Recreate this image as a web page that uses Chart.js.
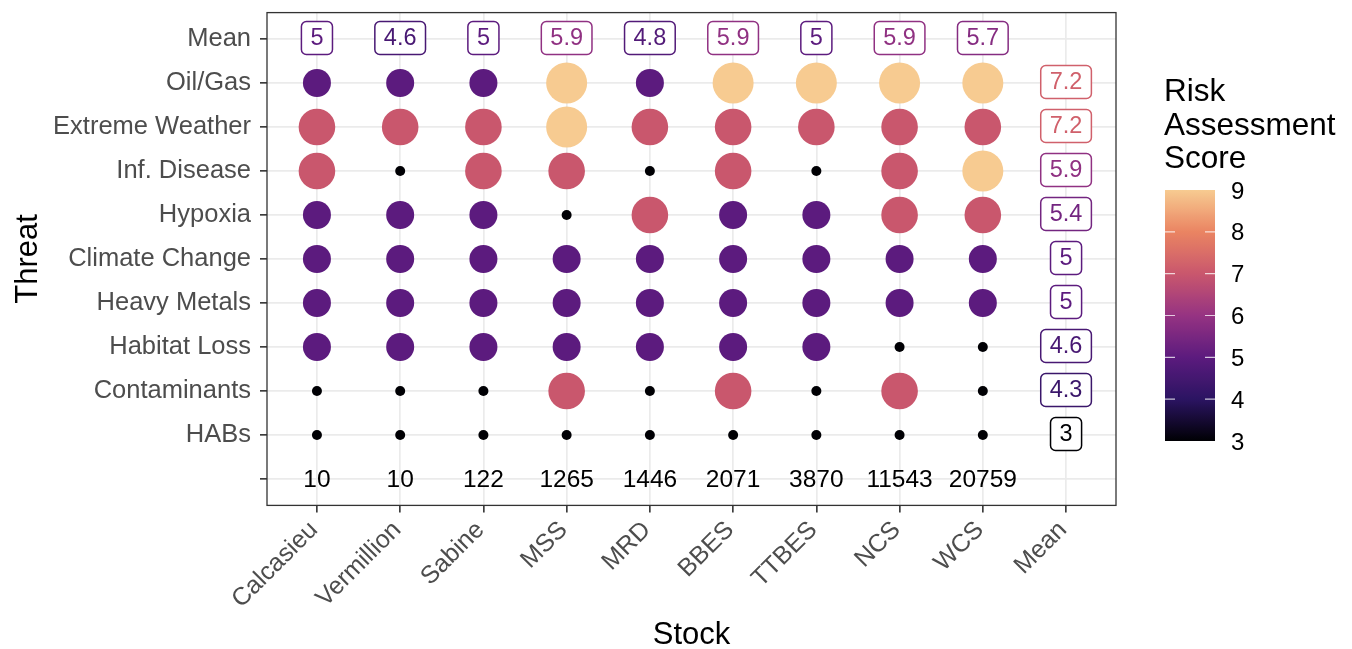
<!DOCTYPE html>
<html>
<head>
<meta charset="utf-8">
<script src="https://cdn.jsdelivr.net/npm/chart.js@4.4.1/dist/chart.umd.min.js"></script>
<style>
  html, body { margin: 0; padding: 0; background: #ffffff; }
  #wrap { width: 1352px; height: 649px; }
</style>
</head>
<body>
<div id="wrap"><canvas id="c" width="1352" height="649"></canvas></div>
<script>
// ---------------- data ----------------
const stocks = ['Calcasieu', 'Vermillion', 'Sabine', 'MSS', 'MRD', 'BBES', 'TTBES', 'NCS', 'WCS'];
const columnLabels = [...stocks, 'Mean'];
const threats = ['Oil/Gas', 'Extreme Weather', 'Inf. Disease', 'Hypoxia', 'Climate Change',
                 'Heavy Metals', 'Habitat Loss', 'Contaminants', 'HABs'];
const rowLabels = ['Mean', ...threats, ''];

const oilGas         = [5, 5, 5, 9, 5, 9, 9, 9, 9];
const extremeWeather = [7, 7, 7, 9, 7, 7, 7, 7, 7];
const infDisease     = [7, 3, 7, 7, 3, 7, 3, 7, 9];
const hypoxia        = [5, 5, 5, 3, 7, 5, 5, 7, 7];
const climateChange  = [5, 5, 5, 5, 5, 5, 5, 5, 5];
const heavyMetals    = [5, 5, 5, 5, 5, 5, 5, 5, 5];
const habitatLoss    = [5, 5, 5, 5, 5, 5, 5, 3, 3];
const contaminants   = [3, 3, 3, 7, 3, 7, 3, 7, 3];
const habs           = [3, 3, 3, 3, 3, 3, 3, 3, 3];

const stockMeans  = [5, 4.6, 5, 5.9, 4.8, 5.9, 5, 5.9, 5.7];
const threatMeans = [7.2, 7.2, 5.9, 5.4, 5, 5, 4.6, 4.3, 3];
const stockCounts = [10, 10, 122, 1265, 1446, 2071, 3870, 11543, 20759];
const legendTicks = [3, 4, 5, 6, 7, 8, 9];
const legendTitle = ['Risk', 'Assessment', 'Score'];

const threatScores = [oilGas, extremeWeather, infDisease, hypoxia, climateChange,
                      heavyMetals, habitatLoss, contaminants, habs];

// ---------------- styles ----------------
const FONT = '"Liberation Sans", Arial, Helvetica, sans-serif';
const COLOR_STOPS = [[3, '#000004'], [4, '#2b1462'], [5, '#5c1b7e'], [6, '#963382'],
                     [7, '#c9576d'], [8, '#ea8462'], [9, '#f7cb91']];
const SIZE_STOPS = [[3, 5], [5, 14], [7, 18.3], [9, 20.5]];

function hexToRgb(h) { return [1, 3, 5].map(i => parseInt(h.slice(i, i + 2), 16)); }
function colorFor(v) {
  if (v <= COLOR_STOPS[0][0]) return COLOR_STOPS[0][1];
  for (let i = 1; i < COLOR_STOPS.length; i++) {
    const [v1, c1] = COLOR_STOPS[i];
    const [v0, c0] = COLOR_STOPS[i - 1];
    if (v <= v1) {
      const t = (v - v0) / (v1 - v0);
      const a = hexToRgb(c0), b = hexToRgb(c1);
      const m = a.map((x, k) => Math.round(x + (b[k] - x) * t));
      return `rgb(${m[0]},${m[1]},${m[2]})`;
    }
  }
  return COLOR_STOPS[COLOR_STOPS.length - 1][1];
}
function radiusFor(v) {
  for (let i = 1; i < SIZE_STOPS.length; i++) {
    const [v1, r1] = SIZE_STOPS[i];
    const [v0, r0] = SIZE_STOPS[i - 1];
    if (v <= v1) return r0 + (r1 - r0) * (v - v0) / (v1 - v0);
  }
  return SIZE_STOPS[SIZE_STOPS.length - 1][1];
}

const points = [];
threatScores.forEach((row, i) => {
  row.forEach((v, j) => points.push({ x: j, y: i + 1, v: v, r: radiusFor(v) }));
});

// ---------------- overlay plugin ----------------
function drawBoxLabel(ctx, cx, cy, value) {
  const txt = String(value);
  const col = colorFor(value);
  ctx.font = `23.5px ${FONT}`;
  const w = ctx.measureText(txt).width + 18;
  const h = 33;
  ctx.beginPath();
  ctx.roundRect(cx - w / 2, cy - h / 2, w, h, 5);
  ctx.fillStyle = '#ffffff';
  ctx.fill();
  ctx.lineWidth = 1.5;
  ctx.strokeStyle = col;
  ctx.stroke();
  ctx.fillStyle = col;
  ctx.textAlign = 'center';
  ctx.textBaseline = 'middle';
  ctx.fillText(txt, cx, cy + 1);
}

const overlay = {
  id: 'overlay',
  afterDatasetsDraw(chart) {
    const { ctx, scales: { x, y } } = chart;
    ctx.save();
    stockMeans.forEach((m, j) => drawBoxLabel(ctx, x.getPixelForValue(j), y.getPixelForValue(0) - 1, m));
    threatMeans.forEach((m, i) => drawBoxLabel(ctx, x.getPixelForValue(stocks.length), y.getPixelForValue(i + 1) - 1, m));
    ctx.font = `24.5px ${FONT}`;
    ctx.fillStyle = '#000000';
    ctx.textAlign = 'center';
    ctx.textBaseline = 'middle';
    stockCounts.forEach((n, j) => ctx.fillText(String(n), x.getPixelForValue(j), y.getPixelForValue(rowLabels.length - 1) + 1));
    ctx.restore();
  },
  afterDraw(chart) {
    const { ctx, chartArea: a } = chart;
    ctx.save();
    // panel border
    ctx.strokeStyle = '#333333';
    ctx.lineWidth = 1.3;
    ctx.strokeRect(a.left, a.top, a.right - a.left, a.bottom - a.top);

    // legend
    const bx = 1165, bw = 50, btop = 190, bbot = 441;
    const lo = legendTicks[0], hi = legendTicks[legendTicks.length - 1];
    const yOf = v => bbot - (v - lo) / (hi - lo) * (bbot - btop);
    ctx.fillStyle = '#000000';
    ctx.font = `31.5px ${FONT}`;
    ctx.textAlign = 'left';
    ctx.textBaseline = 'alphabetic';
    legendTitle.forEach((t, k) => ctx.fillText(t, 1164, 101 + k * 33.5));

    const g = ctx.createLinearGradient(0, bbot, 0, btop);
    for (let s = 0; s <= 60; s++) {
      const v = lo + (hi - lo) * s / 60;
      g.addColorStop(s / 60, colorFor(v));
    }
    ctx.fillStyle = g;
    ctx.fillRect(bx, btop, bw, bbot - btop);

    ctx.strokeStyle = 'rgba(255,255,255,0.75)';
    ctx.lineWidth = 1.2;
    legendTicks.forEach(v => {
      if (v === lo || v === hi) return;
      const yy = yOf(v);
      ctx.beginPath();
      ctx.moveTo(bx, yy); ctx.lineTo(bx + 10, yy);
      ctx.moveTo(bx + bw - 10, yy); ctx.lineTo(bx + bw, yy);
      ctx.stroke();
    });

    ctx.fillStyle = '#000000';
    ctx.font = `24px ${FONT}`;
    ctx.textBaseline = 'middle';
    legendTicks.forEach(v => ctx.fillText(String(v), 1231, yOf(v) + 2));
    ctx.restore();
  }
};

// ---------------- chart ----------------
const gridStyle = { color: '#ebebeb', lineWidth: 1.7, drawTicks: true, tickLength: 7,
                    tickColor: '#333333', tickWidth: 1.6 };

new Chart(document.getElementById('c'), {
  type: 'bubble',
  data: {
    datasets: [{
      data: points,
      backgroundColor: ctx => colorFor(ctx.raw.v),
      borderWidth: 0
    }]
  },
  options: {
    responsive: false,
    devicePixelRatio: 1,
    animation: false,
    events: [],
    layout: { autoPadding: false, padding: { left: 0, right: 236, top: 12.6, bottom: 0 } },
    plugins: { legend: { display: false }, tooltip: { enabled: false } },
    scales: {
      x: {
        type: 'linear', min: -0.6, max: 9.6,
        afterBuildTicks: s => { s.ticks = columnLabels.map((_, i) => ({ value: i })); },
        afterFit: s => { s.height = 649 - 505.4; s.paddingLeft = 0; s.paddingRight = 0; },
        grid: gridStyle,
        border: { display: false },
        ticks: {
          autoSkip: false, minRotation: 45, maxRotation: 45, padding: 3, labelOffset: -3,
          color: '#4d4d4d', font: { family: FONT, size: 25 },
          callback: v => columnLabels[v] ?? ''
        },
        title: { display: true, text: 'Stock', color: '#000000',
                 font: { family: FONT, size: 31, lineHeight: 1 }, padding: { top: 0, bottom: -2 } }
      },
      y: {
        type: 'linear', min: -0.6, max: 10.6, reverse: true,
        afterBuildTicks: s => { s.ticks = rowLabels.map((_, i) => ({ value: i })); },
        afterFit: s => { s.width = 267; s.paddingTop = 0; s.paddingBottom = 0; },
        grid: gridStyle,
        border: { display: false },
        ticks: {
          autoSkip: false, padding: 9,
          color: '#4d4d4d', font: { family: FONT, size: 25.5 },
          callback: v => rowLabels[v] ?? ''
        },
        title: { display: true, text: 'Threat', color: '#000000',
                 font: { family: FONT, size: 31, lineHeight: 1 }, padding: { top: 13, bottom: 0 } }
      }
    }
  },
  plugins: [overlay]
});
</script>
</body>
</html>
